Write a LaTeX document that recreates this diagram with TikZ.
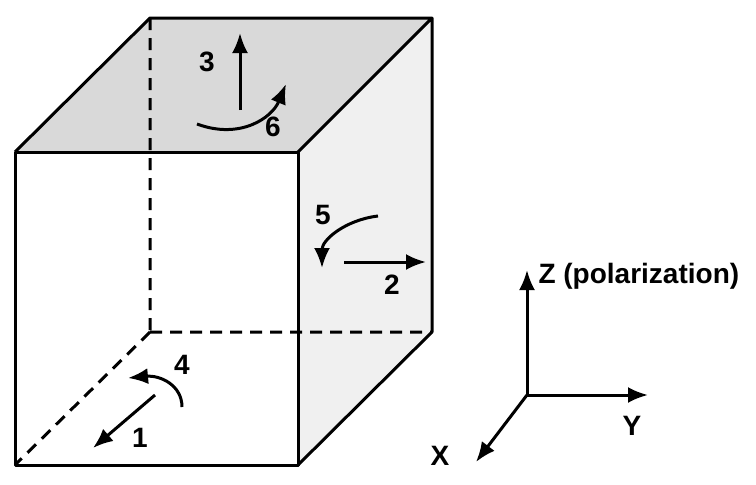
\documentclass[tikz,border=0pt]{standalone}
\usepackage{fontspec}
\setmainfont{Liberation Sans}
\usetikzlibrary{arrows.meta}
\tikzset{
  edgeline/.style = {line width=3pt, line join=round},
  hidden/.style   = {line width=3pt, dash pattern=on 12pt off 8pt},
  vec/.style      = {line width=3pt, -{Latex[length=20pt,width=16pt]}},
  lbl/.style      = {font=\fontsize{28}{32}\selectfont\bfseries}
}
\begin{document}
\begin{tikzpicture}[x=1pt, y=-1pt]
  \useasboundingbox (0,0) rectangle (756,485);
  % corners of the cube
  \coordinate (F1) at (15,152);
  \coordinate (F2) at (298,152);
  \coordinate (F3) at (298,465);
  \coordinate (F4) at (15,465);
  \coordinate (B1) at (150,18);
  \coordinate (B2) at (432,18);
  \coordinate (B3) at (432,332);
  \coordinate (B4) at (150,332);
  % faces
  \fill[gray!30] (F1) -- (B1) -- (B2) -- (F2) -- cycle;
  \fill[gray!12] (F2) -- (B2) -- (B3) -- (F3) -- cycle;
  \draw[hidden] (B1) -- (B4) (B4) -- (B3) (B4) -- (F4);
  \draw[edgeline] (F1) -- (F2) -- (F3) -- (F4) -- cycle;
  \draw[edgeline] (F1) -- (B1) -- (B2) -- (F2) (B2) -- (B3) -- (F3);
  % top face
  \coordinate (t0) at (240,110);
  \coordinate (t1) at (240,33);
  \draw[vec] (t0) -- (t1);
  \node[lbl] (n3) at (207,62) {3};
  \coordinate (r0) at (197,124);
  \coordinate (r1) at (286,84);
  \draw[vec] (r0) .. controls (240,140) and (272,118) .. (r1);
  \node[lbl] (n6) at (273,127) {6};
  % right face
  \node[lbl] (n5) at (323,215) {5};
  \coordinate (c0) at (378,216);
  \coordinate (c1) at (322,268);
  \draw[vec] (c0) .. controls (345,220) and (322,240) .. (c1);
  \coordinate (s0) at (344,262);
  \coordinate (s1) at (426,262);
  \draw[vec] (s0) -- (s1);
  \node[lbl] (n2) at (392,285) {2};
  % front face
  \node[lbl] (n4) at (182,365) {4};
  \coordinate (b0) at (182,407);
  \coordinate (b1) at (128,378);
  \draw[vec] (b0) .. controls (182,385) and (160,375) .. (b1);
  \coordinate (d0) at (155,395);
  \coordinate (d1) at (93,448);
  \draw[vec] (d0) -- (d1);
  \node[lbl] (n1) at (140,438) {1};
  % axes
  \coordinate (O) at (527,395);
  \coordinate (Z) at (527,270);
  \coordinate (Y) at (648,395);
  \coordinate (X) at (476,462);
  \draw[vec] (O) -- (Z);
  \draw[vec] (O) -- (Y);
  \draw[vec] (O) -- (X);
  \node[lbl, anchor=west] (zl) at (535,276) {Z (polarization)};
  \node[lbl] (yl) at (632,426) {Y};
  \node[lbl] (xl) at (440,456) {X};
\end{tikzpicture}
\end{document}
